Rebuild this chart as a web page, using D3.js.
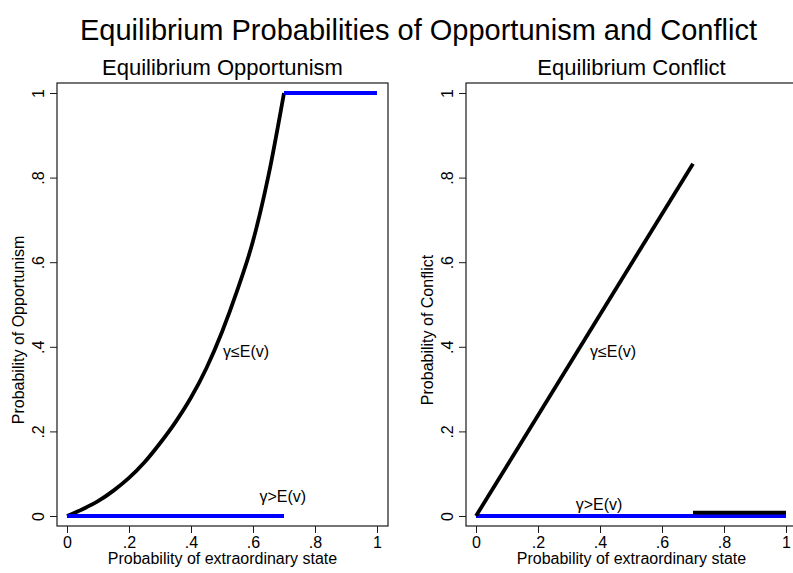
<!DOCTYPE html>
<meta charset='utf-8'>
<title>Equilibrium Probabilities of Opportunism and Conflict</title>
<style>
  body { margin: 0; background: #fff; }
  svg text { font-family: 'Liberation Sans', Arial, Helvetica, sans-serif; fill: #000; }
  .frame { fill: none; stroke: #1a1a1a; stroke-width: 1.2px; }
  .axis path { display: none; }
  .axis line { stroke: #1a1a1a; stroke-width: 1px; }
  .blk { fill: none; stroke: #000; stroke-width: 3.8px; }
  .blu { fill: none; stroke: #0000ff; stroke-width: 3.8px; }
</style>
<body>
<script src='https://d3js.org/d3.v7.min.js'></script>
<script>
  // ---- data ----
  var tickVals = [0, 0.2, 0.4, 0.6, 0.8, 1];
  var tickLabels = ['0', '.2', '.4', '.6', '.8', '1'];

  // opportunism, gamma <= E(v)
  var oppX = [0, 0.05, 0.1, 0.15, 0.2, 0.25, 0.3, 0.35, 0.4, 0.45, 0.5, 0.55, 0.6, 0.65, 0.7];
  var oppY = [0, 0.016, 0.035, 0.060, 0.090, 0.127, 0.172, 0.222, 0.28, 0.35, 0.435, 0.535, 0.65, 0.805, 1.0];
  // opportunism, gamma > E(v)
  var oppHiX = [[0, 0.7], [0.7, 1]];
  var oppHiY = [[0, 0], [1, 1]];

  // conflict, gamma <= E(v)
  var confX = [0, 0.7];
  var confY = [0, 0.833];
  var confTailX = [0.7, 1];
  var confTailY = [0.008, 0.008];
  // conflict, gamma > E(v)
  var confHiX = [0, 1];
  var confHiY = [0, 0];

  var W = 793, H = 573;
  var top_ = 83, bottom = 526;

  var svg = d3.select('body').append('svg')
    .attr('width', W).attr('height', H);

  svg.append('text')
    .attr('x', W / 2 + 22).attr('y', 40)
    .attr('text-anchor', 'middle')
    .style('font-size', '29px')
    .text('Equilibrium Probabilities of Opportunism and Conflict');

  function zip(xs, ys) {
    return xs.map(function(v, i) { return [v, ys[i]]; });
  }

  function panel(left, right, title, ytitle, ytitleX, ylabX) {
    var g = svg.append('g');
    var x = d3.scaleLinear().domain([0, 1]).range([left + 10, right - 11]);
    var y = d3.scaleLinear().domain([0, 1]).range([516, 93]);

    g.append('rect').attr('class', 'frame')
      .attr('x', left).attr('y', top_)
      .attr('width', right - left).attr('height', bottom - top_);

    g.append('text')
      .attr('x', (left + right) / 2).attr('y', 75)
      .attr('text-anchor', 'middle')
      .style('font-size', '22px')
      .text(title);

    var ax = g.append('g').attr('class', 'axis')
      .attr('transform', 'translate(0,' + bottom + ')')
      .call(d3.axisBottom(x).tickValues(tickVals).tickSize(7)
        .tickFormat(function(d, i) { return tickLabels[i]; }));
    ax.selectAll('text').attr('y', 22).attr('dy', 0).style('font-size', '16px');

    var ay = g.append('g').attr('class', 'axis')
      .attr('transform', 'translate(' + left + ',0)')
      .call(d3.axisLeft(y).tickValues(tickVals).tickSize(7)
        .tickFormat(function(d, i) { return tickLabels[i]; }));
    ay.selectAll('text')
      .attr('x', 0).attr('dy', 0)
      .attr('text-anchor', 'middle')
      .attr('transform', 'translate(' + ylabX + ',0) rotate(-90)')
      .style('font-size', '16px');

    g.append('text')
      .attr('x', (left + right) / 2).attr('y', 564)
      .attr('text-anchor', 'middle')
      .style('font-size', '16px')
      .text('Probability of extraordinary state');

    g.append('text')
      .attr('transform', 'translate(' + ytitleX + ',330) rotate(-90)')
      .attr('text-anchor', 'middle')
      .style('font-size', '16px')
      .text(ytitle);

    var line = d3.line()
      .curve(d3.curveMonotoneX)
      .x(function(d) { return x(d[0]); })
      .y(function(d) { return y(d[1]); });

    return { g: g, x: x, y: y, line: line };
  }

  // left: opportunism
  var p1 = panel(57, 388, 'Equilibrium Opportunism', 'Probability of Opportunism', 24, -13);
  p1.g.append('path').attr('class', 'blk').attr('d', p1.line(zip(oppX, oppY)));
  oppHiX.forEach(function(xs, i) {
    p1.g.append('path').attr('class', 'blu').attr('d', p1.line(zip(xs, oppHiY[i])));
  });
  p1.g.append('text').attr('x', p1.x(0.503)).attr('y', p1.y(0.388)).attr('dy', '0.35em')
    .style('font-size', '16px').text('γ≤E(v)');
  p1.g.append('text').attr('x', p1.x(0.696)).attr('y', p1.y(0.046)).attr('dy', '0.35em')
    .attr('text-anchor', 'middle')
    .style('font-size', '16px').text('γ>E(v)');

  // right: conflict
  var p2 = panel(466, 797, 'Equilibrium Conflict', 'Probability of Conflict', 433, -13);
  p2.g.append('path').attr('class', 'blu').attr('d', p2.line(zip(confHiX, confHiY)));
  p2.g.append('path').attr('class', 'blk').attr('d', p2.line(zip(confX, confY)));
  p2.g.append('path').attr('class', 'blk').attr('d', p2.line(zip(confTailX, confTailY)));
  p2.g.append('text').attr('x', p2.x(0.368)).attr('y', p2.y(0.388)).attr('dy', '0.35em')
    .style('font-size', '16px').text('γ≤E(v)');
  p2.g.append('text').attr('x', p2.x(0.397)).attr('y', p2.y(0.028)).attr('dy', '0.35em')
    .attr('text-anchor', 'middle')
    .style('font-size', '16px').text('γ>E(v)');
</script>
</body>
